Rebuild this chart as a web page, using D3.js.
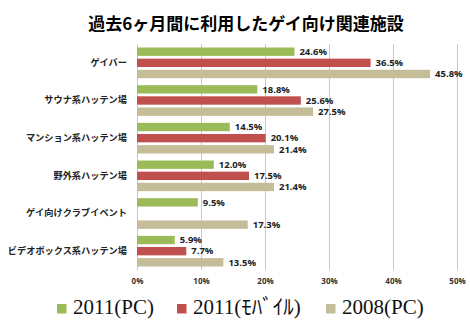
<!DOCTYPE html>
<html lang="ja">
  <head>
    <meta charset="utf-8">
    <title>過去6ヶ月間に利用したゲイ向け関連施設</title>
    <script type="text/javascript" src="https://d3js.org/d3.v7.min.js"></script>
    <style type="text/css">
    body { margin: 0; background: #fff; }
    .title {
      font-family: "Noto Sans CJK JP", sans-serif;
      font-size: 17px;
      font-weight: bold;
    }
    .cat {
      font-family: "Noto Sans CJK JP", sans-serif;
      font-size: 9.2px;
      font-weight: bold;
      fill: #222;
    }
    .val {
      font-family: "Open Sans", "Noto Sans", sans-serif;
      font-size: 9.5px;
      font-weight: bold;
      fill: #222;
    }
    .axisb path { display: none; }
    .axisb line { stroke: #c8c8c8; }
    .axisb text {
      font-family: "Open Sans", sans-serif;
      font-size: 8px;
      font-weight: bold;
      fill: #333;
    }
    .leg {
      font-family: "Liberation Serif", "Noto Sans CJK JP", serif;
      font-size: 21px;
      fill: #111;
    }
    </style>
  </head>
  <body>
    <svg width="470" height="330" id="svg1"></svg>
    <script type="text/javascript">

    const width = 470;
    const height = 330;

    const categories = ["ゲイバー", "サウナ系ハッテン場", "マンション系ハッテン場", "野外系ハッテン場", "ゲイ向けクラブイベント", "ビデオボックス系ハッテン場"];
    const seriesNames = ["2011(PC)", "2011(ﾓﾊﾞｲﾙ)", "2008(PC)"];
    const colors = ["#9bbb59", "#c0504d", "#c4bd97"];
    const pc2011 = [24.6, 18.8, 14.5, 12.0, 9.5, 5.9];
    const mobile2011 = [36.5, 25.6, 20.1, 17.5, null, 7.7];
    const pc2008 = [45.8, 27.5, 21.4, 21.4, 17.3, 13.5];
    const ticks = [0, 10, 20, 30, 40, 50];

    const series = [pc2011, mobile2011, pc2008];

    const plotL = 137, plotR = 457, plotT = 44, plotB = 270;

    const svg = d3.select("#svg1");

    const xScale = d3.scaleLinear()
        .domain([0, 50])
        .range([plotL, plotR]);

    const yScale = d3.scaleBand()
        .domain(categories)
        .range([plotT, plotB])
        .paddingInner(0.186)
        .paddingOuter(0.093);

    const inner = d3.scaleBand()
        .domain(d3.range(3))
        .range([0, yScale.bandwidth()])
        .paddingInner(0.25);

    svg.append("text")
        .attr("class", "title")
        .attr("x", 246)
        .attr("y", 30)
        .attr("text-anchor", "middle")
        .text("過去6ヶ月間に利用したゲイ向け関連施設");

    // grid + tick labels
    const bottomAxis = d3.axisBottom(xScale)
        .tickValues(ticks)
        .tickSize(-(plotB - plotT))
        .tickPadding(8)
        .tickFormat(d => d + "%");

    svg.append("g")
        .attr("class", "axisb")
        .attr("transform", "translate(0," + plotB + ")")
        .call(bottomAxis);

    const rows = [];
    categories.forEach((c, i) => {
      series.forEach((s, j) => {
        if (s[i] != null) rows.push({cat: c, k: j, v: s[i]});
      });
    });

    svg.selectAll("rect.bar")
        .data(rows)
        .enter()
        .append("rect")
        .attr("class", "bar")
        .attr("x", xScale(0))
        .attr("y", d => yScale(d.cat) + inner(d.k))
        .attr("width", d => xScale(d.v) - xScale(0))
        .attr("height", inner.bandwidth())
        .attr("fill", d => colors[d.k]);

    svg.selectAll("text.val")
        .data(rows)
        .enter()
        .append("text")
        .attr("class", "val")
        .attr("x", d => xScale(d.v) + 5)
        .attr("y", d => yScale(d.cat) + inner(d.k) + inner.bandwidth() / 2)
        .attr("dy", "0.35em")
        .text(d => d.v.toFixed(1) + "%");

    svg.selectAll("text.cat")
        .data(categories)
        .enter()
        .append("text")
        .attr("class", "cat")
        .attr("x", 127)
        .attr("y", d => yScale(d) + yScale.bandwidth() / 2)
        .attr("dy", "0.3em")
        .attr("text-anchor", "end")
        .text(d => d);

    // legend
    const legX = [57, 177, 326];
    const leg = svg.selectAll("g.leg")
        .data(seriesNames)
        .enter()
        .append("g")
        .attr("transform", (d, i) => "translate(" + legX[i] + ",304)");

    leg.append("rect")
        .attr("width", 9.5)
        .attr("height", 9.5)
        .attr("fill", (d, i) => colors[i]);

    leg.append("text")
        .attr("class", "leg")
        .attr("x", 16)
        .attr("y", 10)
        .text(d => d);

    </script>
  </body>
</html>
